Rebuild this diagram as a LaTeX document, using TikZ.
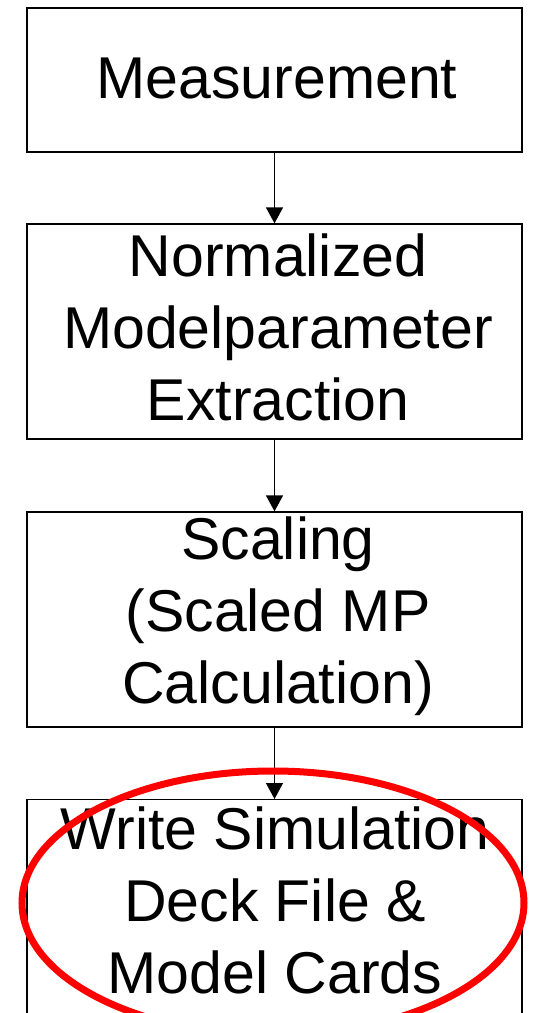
\documentclass[tikz,border=0pt]{standalone}
\usepackage{fontspec}
\setmainfont{Liberation Sans}
\usetikzlibrary{arrows.meta,shapes.geometric}
\begin{document}
\begin{tikzpicture}[x=1pt,y=-1pt,
  flowbox/.style={draw=black,line width=1.3pt,minimum width=495pt,inner sep=0pt},
  flowtext/.style={align=center,inner sep=0pt,font=\fontsize{59}{72}\selectfont},
  flowarrow/.style={draw=black,line width=1.3pt,-{Triangle[length=16pt,width=17pt]}},
  redring/.style={draw=red,line width=7pt}]
\useasboundingbox (0,0) rectangle (533,1013);
\clip (0,0) rectangle (533,1013);
\node[flowbox,minimum height=144pt] (b1) at (274.5,80) {};
\node[flowbox,minimum height=215pt] (b2) at (274.5,331.5) {};
\node[flowbox,minimum height=215pt] (b3) at (274.5,619.5) {};
\node[flowbox,minimum height=260pt,anchor=north] (b4) at (274.5,799) {};
\node[flowtext] (t1) at ([shift={(2.5,-2)}]b1.center) {Measurement};
\node[flowtext] (t2) at ([shift={(3.5,-4)}]b2.center) {Normalized\\Modelparameter\\Extraction};
\node[flowtext] (t3) at ([shift={(3.5,-3)}]b3.center) {Scaling\\(Scaled MP\\Calculation)};
\node[flowtext] (t4) at (275,900) {Write Simulation\\Deck File \&\\Model Cards};
\draw[flowarrow] (b1.south) -- (b2.north);
\draw[flowarrow] (b2.south) -- (b3.north);
\draw[flowarrow] (b3.south) -- (b4.north);
\node[redring,ellipse,minimum width=502pt,minimum height=264pt,inner sep=0pt] (ring) at (273,903) {};
\end{tikzpicture}
\end{document}
